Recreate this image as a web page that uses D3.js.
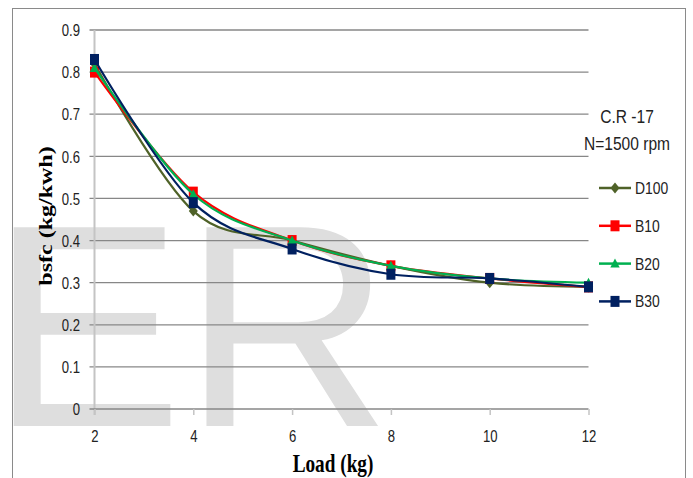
<!DOCTYPE html>
<html>
<head>
<meta charset="utf-8">
<script src="https://cdn.jsdelivr.net/npm/d3@7/dist/d3.min.js"></script>
<style>
  html, body { margin: 0; padding: 0; background: #ffffff; }
  svg { display: block; }
</style>
</head>
<body>
<svg id="chart" width="693" height="478"></svg>
<script>
// ---- data ----
const loads = [2, 4, 6, 8, 10, 12];
const seriesNames = ["D100", "B10", "B20", "B30"];
const d100 = [0.82, 0.47, 0.40, 0.34, 0.30, 0.29];
const b10  = [0.80, 0.515, 0.40, 0.34, 0.31, 0.29];
const b20  = [0.81, 0.51, 0.40, 0.34, 0.31, 0.30];
const b30  = [0.83, 0.49, 0.38, 0.32, 0.31, 0.29];
const yTicks = [0, 0.1, 0.2, 0.3, 0.4, 0.5, 0.6, 0.7, 0.8, 0.9];
const xTitle = "Load (kg)";
const yTitle = "bsfc (kg/kwh)";
const legendHeader = ["C.R -17", "N=1500 rpm"];
const watermark = "ER";

const seriesValues = [d100, b10, b20, b30];
const colors = ["#4f6228", "#ff0000", "#00b050", "#002060"];
const markers = ["diamond", "square", "triangle", "square"];

const SANS = "'Liberation Sans', Arial, sans-serif";
const NARROW = 0.82;

const svg = d3.select("#chart");

const x = d3.scaleLinear().domain([2, 12]).range([94.5, 588.5]);
const y = d3.scaleLinear().domain([0, 0.9]).range([409, 30]);

// watermark
svg.append("text")
  .attr("x", -10).attr("y", 426)
  .attr("font-family", SANS)
  .attr("font-size", 289)
  .attr("fill", "#dedede")
  .text(watermark);

// frame
svg.append("rect")
  .attr("x", 12.5).attr("y", 8.5)
  .attr("width", 673).attr("height", 500)
  .attr("fill", "none")
  .attr("stroke", "#8a8a8a").attr("stroke-width", 1);

// gridlines (excluding 0, drawn by x axis)
svg.append("g").selectAll("line")
  .data(yTicks.filter(d => d > 0))
  .join("line")
  .attr("x1", x(2) - 5).attr("x2", x(12))
  .attr("y1", d => y(d)).attr("y2", d => y(d))
  .attr("stroke", "#878787").attr("stroke-width", 1.3);

// y axis line
svg.append("line")
  .attr("x1", x(2)).attr("x2", x(2))
  .attr("y1", y(0.9)).attr("y2", y(0) + 6)
  .attr("stroke", "#c4c4c4").attr("stroke-width", 2);

// y axis labels
const yAxis = svg.append("g")
  .attr("transform", `translate(${x(2)},0)`)
  .call(d3.axisLeft(y).tickValues(yTicks).tickSize(0).tickPadding(0)
        .tickFormat(d => String(+d.toFixed(1))));
yAxis.select(".domain").remove();
yAxis.selectAll("text")
  .attr("font-family", SANS)
  .attr("font-size", 16).attr("fill", "#222")
  .attr("x", 0).attr("dy", "0.36em")
  .attr("transform", `translate(-14.5,0) scale(${NARROW},1)`);

// x axis
const xAxis = svg.append("g")
  .attr("transform", `translate(0,${y(0)})`)
  .call(d3.axisBottom(x).tickValues(loads).tickSize(6).tickSizeOuter(0));
xAxis.select(".domain").attr("stroke", "#878787").attr("stroke-width", 1.3)
  .attr("d", `M${x(2) - 5},0H${x(12)}`);
xAxis.selectAll(".tick line").attr("stroke", "#c4c4c4").attr("stroke-width", 1.5);
xAxis.selectAll("text")
  .attr("font-family", SANS)
  .attr("font-size", 16).attr("fill", "#222")
  .attr("y", 0).attr("dy", 0)
  .attr("transform", `translate(0,33) scale(${NARROW},1)`);

// titles
svg.append("text")
  .attr("transform", `translate(333,471.5) scale(0.77,1)`)
  .attr("text-anchor", "middle")
  .attr("font-family", "'Liberation Serif', 'Times New Roman', serif")
  .attr("font-weight", "bold").attr("font-size", 25).attr("fill", "#000")
  .text(xTitle);
svg.append("text")
  .attr("transform", `translate(52,216) scale(0.78,1) rotate(-90)`)
  .attr("text-anchor", "middle")
  .attr("font-family", "'Liberation Serif', 'Times New Roman', serif")
  .attr("font-weight", "bold").attr("font-size", 24).attr("fill", "#000")
  .text(yTitle);

// marker drawing helper
function drawMarker(g, type, color) {
  if (type === "diamond") {
    g.append("path").attr("d", "M0,-5.5L4.5,0L0,5.5L-4.5,0Z").attr("fill", color);
  } else if (type === "square") {
    g.append("rect").attr("x", -4.5).attr("y", -5.5).attr("width", 9).attr("height", 11).attr("fill", color);
  } else {
    g.append("path").attr("d", "M0,-5L4.7,4L-4.7,4Z").attr("fill", color);
  }
}

// series
const line = d3.line()
  .x(d => x(d[0])).y(d => y(d[1]))
  .curve(d3.curveCatmullRom.alpha(0));

seriesNames.forEach((name, i) => {
  const pts = loads.map((l, j) => [l, seriesValues[i][j]]);
  const g = svg.append("g");
  g.append("path").datum(pts)
    .attr("d", line)
    .attr("fill", "none").attr("stroke", colors[i]).attr("stroke-width", 2.2);
  pts.forEach(p => {
    const m = g.append("g").attr("transform", `translate(${x(p[0])},${y(p[1])})`);
    drawMarker(m, markers[i], colors[i]);
  });
});

// legend
const lg = svg.append("g");
lg.selectAll("text.hdr").data(legendHeader).join("text")
  .attr("class", "hdr")
  .attr("transform", (d, i) => `translate(627,${123 + i * 27}) scale(${NARROW},1)`)
  .attr("text-anchor", "middle")
  .attr("font-family", SANS)
  .attr("font-size", 19).attr("fill", "#222")
  .text(d => d);

seriesNames.forEach((name, i) => {
  const yy = 188 + i * 37.8;
  lg.append("line")
    .attr("x1", 599).attr("x2", 631).attr("y1", yy).attr("y2", yy)
    .attr("stroke", colors[i]).attr("stroke-width", 2.5);
  const m = lg.append("g").attr("transform", `translate(615,${yy})`);
  drawMarker(m, markers[i], colors[i]);
  lg.append("text")
    .attr("transform", `translate(635,${yy + 6}) scale(${NARROW},1)`)
    .attr("font-family", SANS)
    .attr("font-size", 17).attr("fill", "#222")
    .text(name);
});
</script>
</body>
</html>
